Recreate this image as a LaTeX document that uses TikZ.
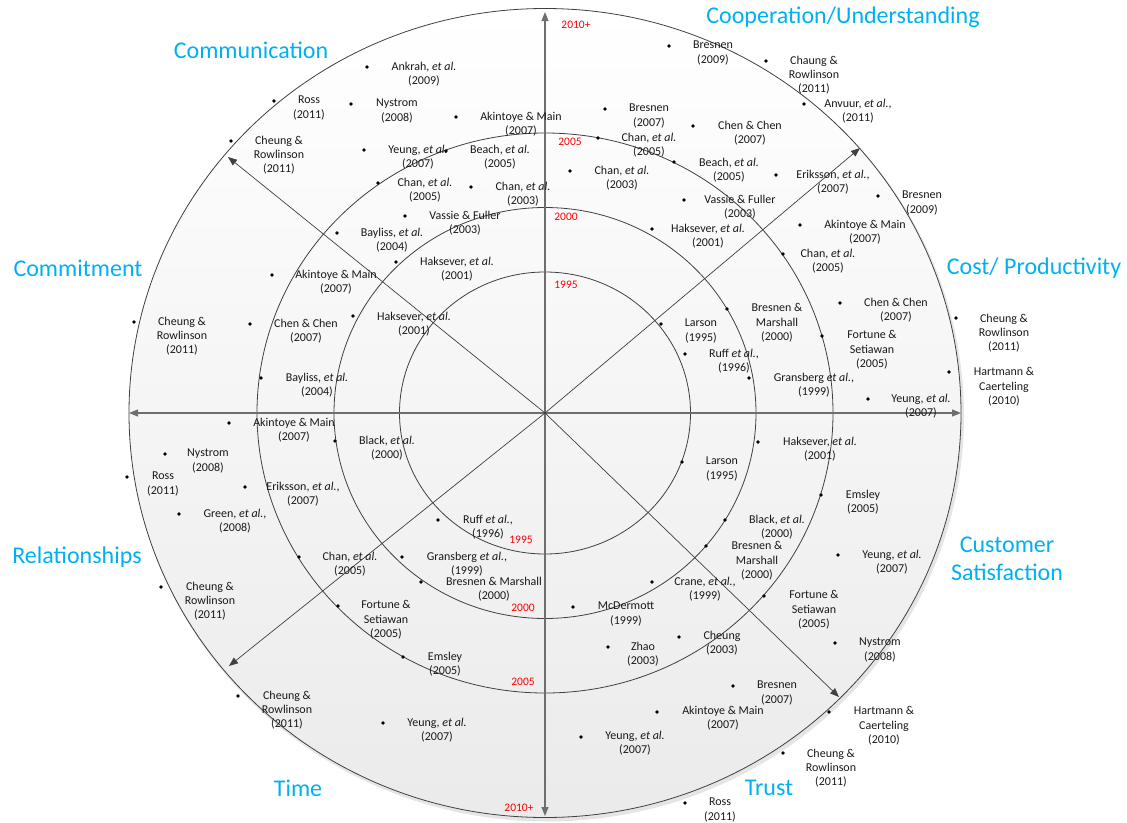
\documentclass[tikz,border=0pt]{standalone}
\usepackage{fontspec}
\setmainfont{Carlito}
\usetikzlibrary{arrows.meta}
\definecolor{catblue}{RGB}{0,176,240}
\definecolor{ringgray}{RGB}{64,64,64}
\definecolor{axisgray}{RGB}{110,110,110}
\definecolor{txt}{RGB}{25,25,25}
\newcommand{\myetal}{\textit{et al.}}
\tikzset{
 dot/.style={circle,fill=black,inner sep=0pt,minimum size=3.8pt},
 lab/.style={align=center,font=\fontsize{12}{14.3}\selectfont,inner sep=0pt,text=txt},
 cat/.style={font=\fontsize{24}{28}\selectfont,text=catblue,inner sep=0pt,align=center},
 yr/.style={font=\fontsize{11.5}{13}\selectfont,text=red,inner sep=0pt},
 ring/.style={draw=ringgray,line width=0.8pt},
 axisarrow/.style={draw=axisgray,line width=1.1pt,-{Triangle[length=9pt,width=7pt]}},
 diagarrow/.style={draw=ringgray,line width=0.7pt,-{Triangle[length=9pt,width=7pt]}},
}
\begin{document}
\begin{tikzpicture}[x=1pt,y=-1pt]
\useasboundingbox (0,0) rectangle (1127,822);
% rings
\fill[black!10] (547,416) ellipse [x radius=417pt, y radius=405.5pt];
\shade[top color=white, bottom color=black!8] (545,413) ellipse [x radius=416pt, y radius=404.5pt];
\draw[ring] (545,413) ellipse [x radius=416pt, y radius=404.5pt];
\draw[ring] (545,413) ellipse [x radius=288pt, y radius=280pt];
\draw[ring] (545,413) ellipse [x radius=211pt, y radius=205.5pt];
\draw[ring] (545,413) ellipse [x radius=145.5pt, y radius=141pt];
% axes
\coordinate (O) at (545,413);
\coordinate (aN) at (545,12);
\coordinate (aS) at (545,816);
\coordinate (aW) at (129,413);
\coordinate (aE) at (961,413);
\coordinate (aNW) at (228,157);
\coordinate (aNE) at (860,148);
\coordinate (aSW) at (229,666);
\coordinate (aSE) at (839,697);
\draw[axisarrow] (O) -- (aN);
\draw[axisarrow] (O) -- (aS);
\draw[axisarrow] (O) -- (aW);
\draw[axisarrow] (O) -- (aE);
\draw[diagarrow] (O) -- (aNW);
\draw[diagarrow] (O) -- (aNE);
\draw[diagarrow] (O) -- (aSW);
\draw[diagarrow] (O) -- (aSE);
% year labels
\node[yr] (y1) at (576,25) {2010+};
\node[yr] (y2) at (570,142) {2005};
\node[yr] (y3) at (566,217) {2000};
\node[yr] (y4) at (566,285) {1995};
\node[yr] (y5) at (521,540) {1995};
\node[yr] (y6) at (523,608) {2000};
\node[yr] (y7) at (523,682) {2005};
\node[yr] (y8) at (519,808) {2010+};
% category labels
\node[cat] (cComm) at (251,50) {Communication};
\node[cat] (cCoop) at (843,17) {Cooperation/Understanding};
\node[cat] (cCommit) at (78,268) {Commitment};
\node[cat] (cCost) at (1034,268) {Cost/ Productivity};
\node[cat] (cCust) at (1007,559) {Customer\\[0pt]Satisfaction};
\node[cat] (cRel) at (77,557) {Relationships};
\node[cat] (cTime) at (298,788) {Time};
\node[cat] (cTrust) at (769,788) {Trust};
% references
\node[dot] (d1) at (367,67) {};  \node[lab] (l1) at (424,74) {Ankrah, \myetal\\(2009)};
\node[dot] (d2) at (274,101) {}; \node[lab] (l2) at (309,108) {Ross\\(2011)};
\node[dot] (d3) at (351,104) {}; \node[lab] (l3) at (397,111) {Nystrom\\(2008)};
\node[dot] (d4) at (456,117) {}; \node[lab] (l4) at (521,124) {Akintoye \& Main\\(2007)};
\node[dot] (d5) at (231,141) {}; \node[lab] (l5) at (279,155) {Cheung \&\\Rowlinson\\(2011)};
\node[dot] (d6) at (364,150) {}; \node[lab] (l6) at (418,157) {Yeung, \myetal\\(2007)};
\node[dot] (d7) at (446,151) {}; \node[lab] (l7) at (500,157) {Beach, \myetal\\(2005)};
\node[dot] (d8) at (378,183) {}; \node[lab] (l8) at (425,190) {Chan, \myetal\\(2005)};
\node[dot] (d9) at (471,187) {}; \node[lab] (l9) at (523,194) {Chan, \myetal\\(2003)};
\node[dot] (d10) at (405,216) {}; \node[lab] (l10) at (465,223) {Vassie \& Fuller\\(2003)};
\node[dot] (d11) at (337,233) {}; \node[lab] (l11) at (392,240) {Bayliss, \myetal\\(2004)};
\node[dot] (d12) at (396,262) {}; \node[lab] (l12) at (457,269) {Haksever, \myetal\\(2001)};
\node[dot] (d13) at (272,275) {}; \node[lab] (l13) at (336,282) {Akintoye \& Main\\(2007)};
\node[dot] (d14) at (134,322) {}; \node[lab] (l14) at (182,336) {Cheung \&\\Rowlinson\\(2011)};
\node[dot] (d15) at (250,324) {}; \node[lab] (l15) at (306,331) {Chen \& Chen\\(2007)};
\node[dot] (d16) at (353,316) {}; \node[lab] (l16) at (414,324) {Haksever, \myetal\\(2001)};
\node[dot] (d17) at (261,378) {}; \node[lab] (l17) at (317,385) {Bayliss, \myetal\\(2004)};
\node[dot] (d18) at (229,423) {}; \node[lab] (l18) at (294,430) {Akintoye \& Main\\(2007)};
\node[dot] (d19) at (335,441) {}; \node[lab] (l19) at (387,448) {Black, \myetal\\(2000)};
\node[dot] (d20) at (165,454) {}; \node[lab] (l20) at (208,461) {Nystrom\\(2008)};
\node[dot] (d21) at (127,477) {}; \node[lab] (l21) at (163,484) {Ross\\(2011)};
\node[dot] (d22) at (245,487) {}; \node[lab] (l22) at (303,494) {Eriksson, \myetal,\\(2007)};
\node[dot] (d23) at (179,514) {}; \node[lab] (l23) at (235,521) {Green, \myetal,\\(2008)};
\node[dot] (d24) at (299,557) {}; \node[lab] (l24) at (350,564) {Chan, \myetal\\(2005)};
\node[dot] (d25) at (161,587) {}; \node[lab] (l25) at (210,601) {Cheung \&\\Rowlinson\\(2011)};
\node[dot] (d26) at (338,606) {}; \node[lab] (l26) at (386,620) {Fortune \&\\Setiawan\\(2005)};
\node[dot] (d27) at (402,557) {}; \node[lab] (l27) at (467,564) {Gransberg \myetal,\\(1999)};
\node[dot] (d28) at (421,582) {}; \node[lab] (l28) at (494,589) {Bresnen \& Marshall\\(2000)};
\node[dot] (d29) at (438,520) {}; \node[lab] (l29) at (488,527) {Ruff \myetal,\\(1996)};
\node[dot] (d30) at (238,696) {}; \node[lab] (l30) at (287,710) {Cheung \&\\Rowlinson\\(2011)};
\node[dot] (d31) at (403,657) {}; \node[lab] (l31) at (445,664) {Emsley\\(2005)};
\node[dot] (d32) at (383,723) {}; \node[lab] (l32) at (437,730) {Yeung, \myetal\\(2007)};
\node[dot] (d33) at (573,607) {}; \node[lab] (l33) at (626,614) {McDermott\\(1999)};
\node[dot] (d34) at (652,582) {}; \node[lab] (l34) at (705,589) {Crane, \myetal,\\(1999)};
\node[dot] (d35) at (608,647) {}; \node[lab] (l35) at (643,654) {Zhao\\(2003)};
\node[dot] (d36) at (679,637) {}; \node[lab] (l36) at (722,643) {Cheung\\(2003)};
\node[dot] (d37) at (733,686) {}; \node[lab] (l37) at (777,693) {Bresnen\\(2007)};
\node[dot] (d38) at (657,712) {}; \node[lab] (l38) at (723,718) {Akintoye \& Main\\(2007)};
\node[dot] (d39) at (581,737) {}; \node[lab] (l39) at (635,743) {Yeung, \myetal\\(2007)};
\node[dot] (d40) at (685,803) {}; \node[lab] (l40) at (720,810) {Ross\\(2011)};
\node[dot] (d41) at (682,462) {}; \node[lab] (l41) at (722,469) {Larson\\(1995)};
\node[dot] (d42) at (758,442) {}; \node[lab] (l42) at (820,449) {Haksever, \myetal\\(2001)};
\node[dot] (d43) at (821,495) {}; \node[lab] (l43) at (863,502) {Emsley\\(2005)};
\node[dot] (d44) at (725,520) {}; \node[lab] (l44) at (777,527) {Black, \myetal\\(2000)};
\node[dot] (d45) at (706,546) {}; \node[lab] (l45) at (757,561) {Bresnen \&\\Marshall\\(2000)};
\node[dot] (d46) at (838,555) {}; \node[lab] (l46) at (892,562) {Yeung, \myetal\\(2007)};
\node[dot] (d47) at (764,596) {}; \node[lab] (l47) at (814,610) {Fortune \&\\Setiawan\\(2005)};
\node[dot] (d48) at (835,643) {}; \node[lab] (l48) at (880,650) {Nystrom\\(2008)};
\node[dot] (d49) at (829,712) {}; \node[lab] (l49) at (884,726) {Hartmann \&\\Caerteling\\(2010)};
\node[dot] (d50) at (783,753) {}; \node[lab] (l50) at (831,768) {Cheung \&\\Rowlinson\\(2011)};
\node[dot] (d51) at (661,324) {}; \node[lab] (l51) at (701,331) {Larson\\(1995)};
\node[dot] (d52) at (685,354) {}; \node[lab] (l52) at (734,361) {Ruff \myetal,\\(1996)};
\node[dot] (d53) at (727,309) {}; \node[lab] (l53) at (777,323) {Bresnen \&\\Marshall\\(2000)};
\node[dot] (d54) at (749,378) {}; \node[lab] (l54) at (814,385) {Gransberg \myetal,\\(1999)};
\node[dot] (d55) at (840,303) {}; \node[lab] (l55) at (896,310) {Chen \& Chen\\(2007)};
\node[dot] (d56) at (822,336) {}; \node[lab] (l56) at (872,350) {Fortune \&\\Setiawan\\(2005)};
\node[dot] (d57) at (868,399) {}; \node[lab] (l57) at (921,406) {Yeung, \myetal\\(2007)};
\node[dot] (d58) at (956,318) {}; \node[lab] (l58) at (1004,333) {Cheung \&\\Rowlinson\\(2011)};
\node[dot] (d59) at (949,372) {}; \node[lab] (l59) at (1004,387) {Hartmann \&\\Caerteling\\(2010)};
\node[dot] (d60) at (783,254) {}; \node[lab] (l60) at (828,261) {Chan, \myetal\\(2005)};
\node[dot] (d61) at (800,225) {}; \node[lab] (l61) at (865,232) {Akintoye \& Main\\(2007)};
\node[dot] (d62) at (878,196) {}; \node[lab] (l62) at (922,203) {Bresnen\\(2009)};
\node[dot] (d63) at (776,175) {}; \node[lab] (l63) at (833,182) {Eriksson, \myetal,\\(2007)};
\node[dot] (d64) at (669,46) {};  \node[lab] (l64) at (713,53) {Bresnen\\(2009)};
\node[dot] (d65) at (766,61) {};  \node[lab] (l65) at (814,75) {Chaung \&\\Rowlinson\\(2011)};
\node[dot] (d66) at (804,104) {}; \node[lab] (l66) at (858,111) {Anvuur, \myetal,\\(2011)};
\node[dot] (d67) at (605,109) {}; \node[lab] (l67) at (649,116) {Bresnen\\(2007)};
\node[dot] (d68) at (693,126) {}; \node[lab] (l68) at (750,133) {Chen \& Chen\\(2007)};
\node[dot] (d69) at (598,138) {}; \node[lab] (l69) at (649,145) {Chan, \myetal\\(2005)};
\node[dot] (d70) at (674,162) {}; \node[lab] (l70) at (729,170) {Beach, \myetal\\(2005)};
\node[dot] (d71) at (570,171) {}; \node[lab] (l71) at (622,178) {Chan, \myetal\\(2003)};
\node[dot] (d72) at (684,200) {}; \node[lab] (l72) at (740,207) {Vassie \& Fuller\\(2003)};
\node[dot] (d73) at (652,229) {}; \node[lab] (l73) at (708,236) {Haksever, \myetal\\(2001)};
\end{tikzpicture}
\end{document}
